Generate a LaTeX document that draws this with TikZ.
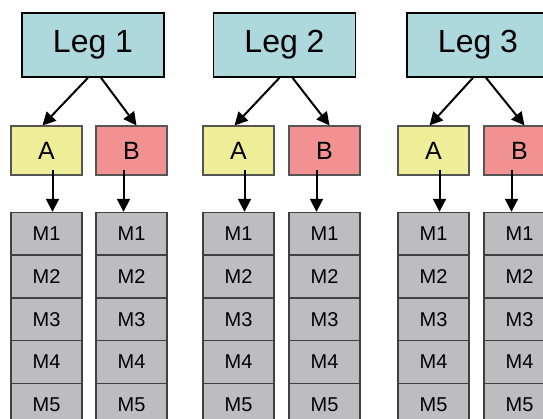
\documentclass[tikz,border=0pt]{standalone}
\usepackage{fontspec}
\setmainfont{Liberation Sans}
\usetikzlibrary{arrows.meta,calc}
\definecolor{legfill}{HTML}{ADD8DC}
\definecolor{afill}{HTML}{EEEE99}
\definecolor{bfill}{HTML}{F29191}
\definecolor{mfill}{HTML}{BDBDBF}
\definecolor{mline}{HTML}{404040}
\definecolor{abline}{HTML}{555555}
\tikzset{
  legbox/.style={draw=black, line width=1.5pt, fill=legfill, minimum width=142pt, minimum height=64pt, inner sep=0pt, font=\fontsize{32}{34}\selectfont},
  abox/.style={draw=abline, line width=1.1pt, fill=afill, minimum width=71pt, minimum height=49pt, inner sep=0pt, font=\fontsize{25}{27}\selectfont},
  bbox/.style={abox, fill=bfill},
  mcell/.style={draw=mline, line width=1.4pt, fill=mfill, minimum width=71pt, minimum height=42.7pt, inner sep=0pt, font=\fontsize{20}{22}\selectfont},
  arr/.style={line width=2pt, -{Triangle[width=13pt,length=13pt]}}
}
\begin{document}
\begin{tikzpicture}[x=1pt,y=-1pt]
\useasboundingbox (0,0) rectangle (543,419);
\clip (0,0) rectangle (543,419);
\fill[white] (0,0) rectangle (543,419);
% group positions: leg center x, A center x, B center x
\foreach \g/\lx/\ax/\bx in {1/93/46.5/131.5, 2/284.5/238.5/324.5, 3/478/433.5/519.5} {
  \node[legbox] (L\g) at (\lx,45) {Leg \g};
  \node[abox] (A\g) at (\ax,150.5) {A};
  \node[bbox] (B\g) at (\bx,150.5) {B};
  \foreach \k in {1,...,5} {
    \node[mcell] (MA\g\k) at (\ax,{212.5+21.35+(\k-1)*42.7}) {M\k};
    \node[mcell] (MB\g\k) at (\bx,{212.5+21.35+(\k-1)*42.7}) {M\k};
  }
  \draw[arr] ([xshift=-5pt]L\g.south) -- ([xshift=-4pt]A\g.north);
  \draw[arr] ([xshift=8pt]L\g.south) -- ([xshift=5pt]B\g.north);
  \draw[arr] ([xshift=6pt,yshift=6pt]A\g.south) -- ([xshift=6pt]MA\g1.north);
  \draw[arr] ([xshift=-8pt,yshift=6pt]B\g.south) -- ([xshift=-8pt]MB\g1.north);
}
\end{tikzpicture}
\end{document}
